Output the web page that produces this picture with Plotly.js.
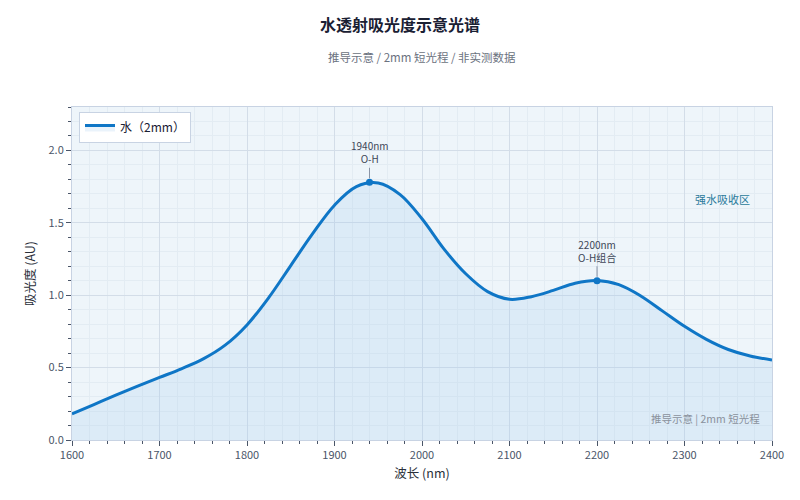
<!DOCTYPE html>
<html lang="zh">
<head>
  <meta charset="UTF-8">
  <title>水透射吸光度示意光谱</title>
  <script src="https://cdn.plot.ly/plotly-3.0.1.min.js" charset="utf-8"></script>
  <style>
    html, body { margin: 0; padding: 0; background: #fff; }
    #chart { width: 800px; height: 500px; }
  </style>
</head>
<body>
  <div id="chart"></div>
  <script>
    // wavelength (nm) and absorbance (AU), every 25 nm
    var wavelength = [1600, 1625, 1650, 1675, 1700, 1725, 1750, 1775, 1800, 1825, 1850, 1875, 1900, 1925, 1950, 1975, 2000,
                      2025, 2050, 2075, 2100, 2125, 2150, 2175, 2200, 2225, 2250, 2275, 2300, 2325, 2350, 2375, 2400];
    var absorbance = [0.18, 0.245, 0.31, 0.372, 0.432, 0.492, 0.56, 0.655, 0.795, 0.985, 1.205, 1.425, 1.622, 1.75, 1.775, 1.695, 1.528,
                      1.32, 1.148, 1.025, 0.972, 0.99, 1.033, 1.083, 1.102, 1.073, 0.995, 0.89, 0.785, 0.695, 0.625, 0.58, 0.553];

    // marked peaks
    var peakX = [1940, 2200];
    var peakY = [1.78, 1.10];
    var peakLabels = ['1940nm<br>O-H', '2200nm<br>O-H组合'];

    var FONT = '"Noto Sans CJK SC", "Noto Sans", sans-serif';
    var BLUE = '#0f76c6';

    var water = {
      x: wavelength,
      y: absorbance,
      name: '水（2mm）',
      type: 'scatter',
      mode: 'lines',
      line: {color: BLUE, width: 3, shape: 'spline', smoothing: 1},
      fill: 'tozeroy',
      fillcolor: 'rgba(160, 200, 235, 0.22)',
      hoverinfo: 'x+y'
    };

    var peaks = {
      x: peakX,
      y: peakY,
      type: 'scatter',
      mode: 'markers',
      marker: {color: BLUE, size: 7},
      showlegend: false,
      hoverinfo: 'skip'
    };

    var notes = peakX.map(function (px, i) {
      return {
        x: px, y: peakY[i], xref: 'x', yref: 'y',
        text: peakLabels[i],
        showarrow: true, arrowhead: 0, arrowwidth: 1, arrowcolor: '#8a94a6',
        ax: 0, ay: -30, standoff: 4,
        font: {family: FONT, size: 10, color: '#3d4657'}
      };
    });

    notes.push({
      x: 0.929, y: 0.724, xref: 'paper', yref: 'paper', xanchor: 'center', yanchor: 'middle',
      text: '强水吸收区', showarrow: false,
      font: {family: FONT, size: 11, color: '#2a7a9b'}
    });
    notes.push({
      x: 0.985, y: 0.035, xref: 'paper', yref: 'paper', xanchor: 'right',
      text: '推导示意 | 2mm 短光程', showarrow: false,
      font: {family: FONT, size: 10.5, color: '#8a919c'}
    });
    notes.push({
      x: 0.5, y: 1.15, xref: 'paper', yref: 'paper', xanchor: 'center', yanchor: 'middle',
      text: '推导示意 / 2mm 短光程 / 非实测数据', showarrow: false,
      font: {family: FONT, size: 11.5, color: '#6b7280'}
    });

    var layout = {
      width: 800,
      height: 500,
      margin: {l: 72, r: 28, t: 107, b: 60},
      paper_bgcolor: '#ffffff',
      plot_bgcolor: '#eef5fa',
      font: {family: FONT, size: 11, color: '#4a5568'},
      title: {
        text: '<b>水透射吸光度示意光谱</b>',
        x: 0.5, xanchor: 'center', y: 0.95, yanchor: 'middle',
        font: {family: FONT, size: 16, color: '#1a2033'}
      },
      xaxis: {
        title: {text: '波长 (nm)', font: {family: FONT, size: 12.5, color: '#2a2f3a'}, standoff: 8},
        range: [1600, 2400],
        dtick: 100,
        ticks: 'outside', ticklen: 5, tickcolor: '#4a5568',
        showline: true, linecolor: '#c8d3e3', linewidth: 1, mirror: true,
        gridcolor: '#d3dde8', zeroline: false,
        minor: {dtick: 20, ticks: 'outside', ticklen: 3, tickcolor: '#4a5568', showgrid: true, gridcolor: '#e3ecf3'}
      },
      yaxis: {
        title: {text: '吸光度 (AU)', font: {family: FONT, size: 12.5, color: '#2a2f3a'}, standoff: 10},
        range: [0, 2.3],
        dtick: 0.5,
        tickformat: '.1f',
        ticks: 'outside', ticklen: 5, tickcolor: '#4a5568',
        showline: true, linecolor: '#c8d3e3', linewidth: 1, mirror: true,
        gridcolor: '#d3dde8', zeroline: false,
        minor: {dtick: 0.1, ticks: 'outside', ticklen: 3, tickcolor: '#4a5568', showgrid: true, gridcolor: '#e3ecf3'}
      },
      showlegend: true,
      legend: {
        x: 0.01, y: 0.985, xanchor: 'left', yanchor: 'top',
        bgcolor: '#ffffff', bordercolor: '#c8d3e3', borderwidth: 1,
        font: {family: FONT, size: 12, color: '#1a2033'}
      },
      annotations: notes
    };

    Plotly.newPlot('chart', [water, peaks], layout, {displayModeBar: false, responsive: false});
  </script>
</body>
</html>
